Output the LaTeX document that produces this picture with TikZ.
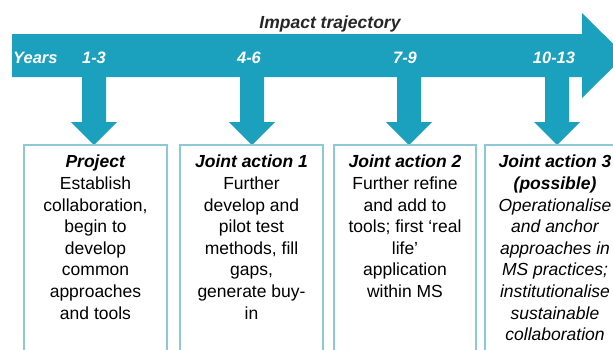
\documentclass[tikz,border=0pt]{standalone}
\usepackage{fontspec}
\setmainfont{Liberation Sans}
\definecolor{trajteal}{RGB}{27,160,190}
\definecolor{boxteal}{RGB}{140,200,214}
\def\yeardrop(#1){\fill[trajteal] (#1-12, 76) -- (#1+12, 76) -- (#1+12, 122) -- (#1+23, 122) -- (#1, 145) -- (#1-23, 122) -- (#1-12, 122) -- cycle;}
\tikzset{
	stagebox/.style={draw=boxteal, line width=1.4pt},
	stagetext/.style={anchor=north, inner sep=0pt, align=center, font=\fontsize{17.5}{21.6}\selectfont},
	yearlabel/.style={anchor=base, inner sep=0pt, text=white, font=\fontsize{16.5}{18}\selectfont\bfseries\itshape}
}

\begin{document}
\begin{tikzpicture}[x=1pt, y=-1pt]
			%%%%% START %%%%%
			\clip (0, 0) rectangle (613, 349);
			
			\fill[trajteal] (12, 34) -- (582, 34) -- (582, 13) -- (625, 55.5) -- (582, 98) -- (582, 77) -- (12, 77) -- cycle;
			\node[anchor=base, inner sep=0pt, text=black!85, font=\fontsize{17.5}{20}\selectfont\bfseries\itshape] (impact) at (330, 28) {Impact trajectory};
			
			\node[yearlabel, anchor=base west] (years) at (13, 63) {Years};
			\node[yearlabel] (y13) at (94, 63) {1-3};
			\node[yearlabel] (y46) at (249, 63) {4-6};
			\node[yearlabel] (y79) at (405, 63) {7-9};
			\node[yearlabel] (y1013) at (554, 63) {10-13};
			
			\yeardrop(94)
			\yeardrop(252)
			\yeardrop(409)
			\yeardrop(557)
			
			\draw[stagebox] (24, 145) rectangle (167, 360);
			\draw[stagebox] (180, 145) rectangle (323, 360);
			\draw[stagebox] (334, 145) rectangle (476, 360);
			\draw[stagebox] (485, 145) rectangle (625, 360);
			
			\node[stagetext] (project) at (95.5, 155) {\textbf{\textit{Project}}\\Establish\\collaboration,\\begin to\\develop\\common\\approaches\\and tools};
			\node[stagetext] (ja1) at (251.5, 155) {\textbf{\textit{Joint action 1}}\\Further\\develop and\\pilot test\\methods, fill\\gaps,\\generate buy-\\in};
			\node[stagetext] (ja2) at (405, 155) {\textbf{\textit{Joint action 2}}\\Further refine\\and add to\\tools; first `real\\life'\\application\\within MS};
			\node[stagetext, font=\fontsize{17.5}{21.6}\selectfont\itshape] (ja3) at (555, 155) {\textbf{Joint action 3}\\\textbf{(possible)}\\Operationalise\\and anchor\\approaches in\\MS practices;\\institutionalise\\sustainable\\collaboration};
			
			%%%%% END %%%%%
		\end{tikzpicture}
\end{document}
